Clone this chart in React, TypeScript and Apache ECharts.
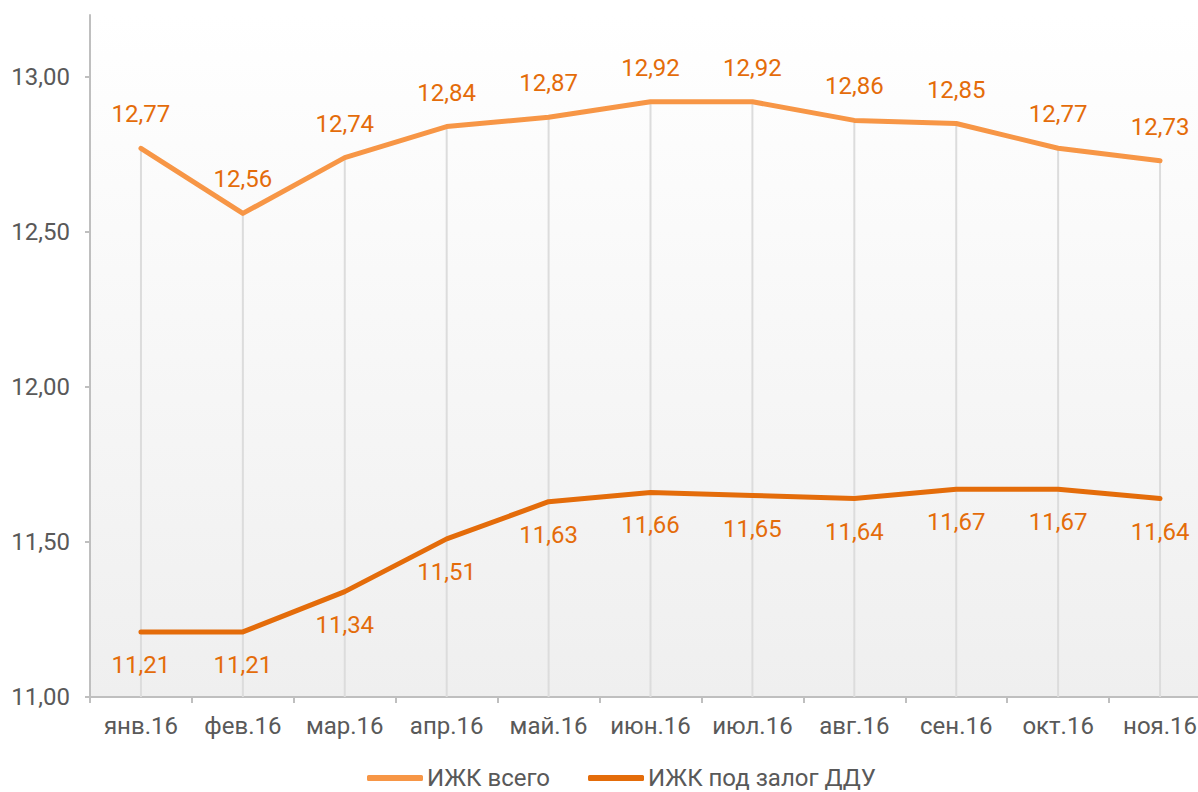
import React, { useEffect, useRef } from "react";
import * as echarts from "echarts";

const categories = ["янв.16", "фев.16", "мар.16", "апр.16", "май.16", "июн.16", "июл.16", "авг.16", "сен.16", "окт.16", "ноя.16"];
const totalValues = [12.77, 12.56, 12.74, 12.84, 12.87, 12.92, 12.92, 12.86, 12.85, 12.77, 12.73];
const dduValues = [11.21, 11.21, 11.34, 11.51, 11.63, 11.66, 11.65, 11.64, 11.67, 11.67, 11.64];
const yTicks = [11, 11.5, 12, 12.5, 13];
const seriesNames = ["ИЖК всего", "ИЖК под залог ДДУ"];

const fmt = (v: number) => v.toFixed(2).replace(".", ",");

export default function App() {
  const ref = useRef<HTMLDivElement>(null);
  useEffect(() => {
    document.body.style.margin = "0";
    const chart = echarts.init(ref.current!, null, { renderer: "svg" });
    const font = "Roboto";
    const fs = 24;
    chart.setOption({
      animation: false,
      textStyle: { fontFamily: font },
      grid: {
        left: 90,
        right: -13,
        top: 15,
        bottom: 95,
        outerBoundsMode: "none",
        containLabel: false,
        show: true,
        borderWidth: 0,
        backgroundColor: {
          type: "linear",
          x: 0,
          y: 0,
          x2: 0,
          y2: 1,
          colorStops: [
            { offset: 0, color: "#ffffff" },
            { offset: 1, color: "#efefef" },
          ],
        },
      },
      legend: {
        bottom: -3,
        left: 362,
        data: seriesNames,
        icon: "roundRect",
        itemWidth: 56,
        itemHeight: 6,
        itemGap: 38,
        textStyle: { fontFamily: font, fontSize: 24, color: "#595959", padding: [0, 0, 0, -1] },
      },
      xAxis: {
        type: "category",
        data: categories,
        boundaryGap: true,
        axisLine: { lineStyle: { color: "#bfbfbf", width: 2 } },
        axisTick: { show: true, length: 6, lineStyle: { color: "#bfbfbf", width: 2 } },
        axisLabel: { fontFamily: font, fontSize: fs, color: "#595959", margin: 17, interval: 0 },
        splitLine: { show: false },
      },
      yAxis: {
        type: "value",
        min: 11,
        max: 13.2,
        axisLine: { show: true, lineStyle: { color: "#bfbfbf", width: 2 } },
        axisTick: { show: true, length: 5, customValues: yTicks, lineStyle: { color: "#bfbfbf", width: 2 } },
        axisLabel: {
          fontFamily: font,
          fontSize: fs,
          color: "#595959",
          margin: 20,
          customValues: yTicks,
          formatter: (v: number) => fmt(v),
        },
        splitLine: { show: false },
      },
      series: [
        {
          type: "custom",
          name: "drop",
          silent: true,
          z: 1,
          data: totalValues.map((v, i) => [i, v]),
          renderItem: (params: any, api: any) => {
            const top = api.coord([api.value(0), api.value(1)]);
            const bottom = api.coord([api.value(0), 11]);
            return {
              type: "line",
              shape: { x1: top[0], y1: top[1], x2: bottom[0], y2: bottom[1] },
              style: { stroke: "#dcdcdc", lineWidth: 2 },
            };
          },
        },
        {
          name: seriesNames[0],
          type: "line",
          data: totalValues,
          z: 3,
          symbol: "circle",
          symbolSize: 2,
          color: "#f79646",
          lineStyle: { color: "#f79646", width: 5, cap: "round", join: "round" },
          label: {
            show: true,
            position: "top",
            distance: 21,
            fontFamily: font,
            fontSize: fs,
            color: "#e46c0a",
            formatter: (p: any) => fmt(p.value),
          },
        },
        {
          name: seriesNames[1],
          type: "line",
          data: dduValues,
          z: 3,
          symbol: "circle",
          symbolSize: 2,
          color: "#e46c0a",
          lineStyle: { color: "#e46c0a", width: 5, cap: "round", join: "round" },
          label: {
            show: true,
            position: "bottom",
            distance: 20,
            fontFamily: font,
            fontSize: fs,
            color: "#e46c0a",
            formatter: (p: any) => fmt(p.value),
          },
        },
      ],
    });
    return () => chart.dispose();
  }, []);
  return <div ref={ref} style={{ width: 1198, height: 792 }} />;
}
